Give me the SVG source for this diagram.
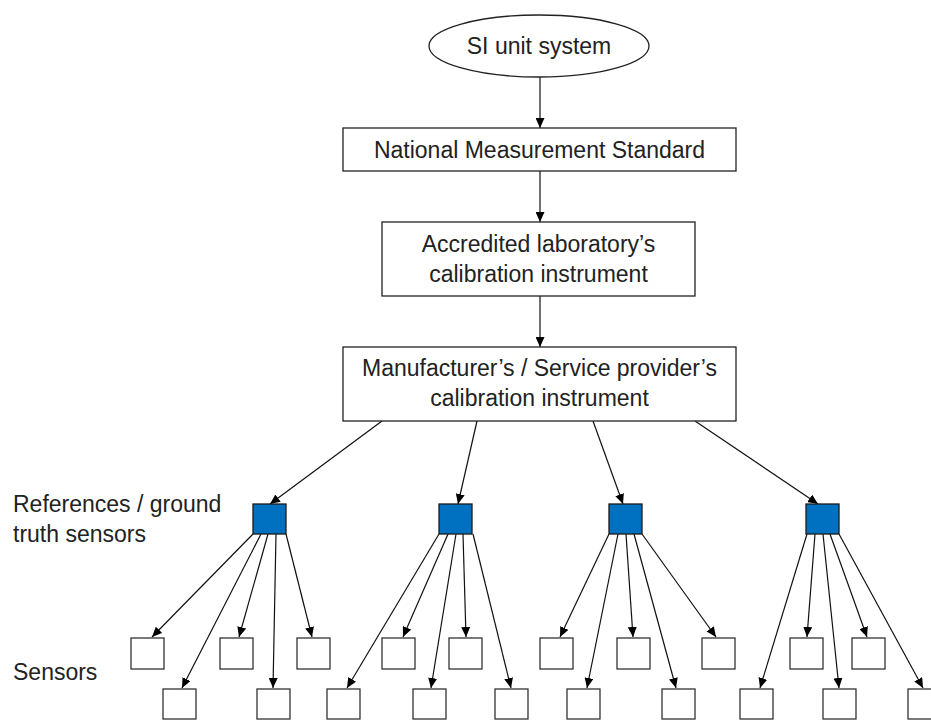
<svg xmlns="http://www.w3.org/2000/svg" width="931" height="720" viewBox="0 0 931 720">
<style>
  text { font-family: "Liberation Sans", Arial, sans-serif; font-size: 23px; fill: #222; }
  .c { text-anchor: middle; }
  .box { fill: #fff; stroke: #222; stroke-width: 1.3; }
  .ref { fill: #0070C0; stroke: #1a1a1a; stroke-width: 1.3; }
  .sen { fill: #fff; stroke: #333; stroke-width: 1.3; }
  .edge { stroke: #111; stroke-width: 1.2; fill: none; marker-end: url(#arr); }
</style>
<defs>
  <marker id="arr" markerUnits="userSpaceOnUse" markerWidth="11" markerHeight="9" refX="10" refY="4.5" orient="auto">
    <path d="M0,0 L10,4.5 L0,9 z" fill="#000"/>
  </marker>
</defs>
<rect width="931" height="720" fill="#fff"/>

<g id="connectors">
  <line class="edge" x1="540" y1="77" x2="540" y2="128"/>
  <line class="edge" x1="540" y1="171" x2="540" y2="222"/>
  <line class="edge" x1="540" y1="296" x2="540" y2="347"/>

  <line class="edge" x1="382" y1="421" x2="270" y2="504"/>
  <line class="edge" x1="477" y1="421" x2="458" y2="504"/>
  <line class="edge" x1="593" y1="421" x2="623" y2="504"/>
  <line class="edge" x1="695" y1="421" x2="818" y2="504"/>

  <line class="edge" x1="253" y1="534" x2="152" y2="637"/>
  <line class="edge" x1="261" y1="534" x2="182" y2="688"/>
  <line class="edge" x1="268" y1="534" x2="239" y2="637"/>
  <line class="edge" x1="276" y1="534" x2="273" y2="688"/>
  <line class="edge" x1="286" y1="534" x2="312" y2="637"/>

  <line class="edge" x1="439" y1="534" x2="347" y2="688"/>
  <line class="edge" x1="448" y1="534" x2="403" y2="637"/>
  <line class="edge" x1="456" y1="534" x2="431" y2="688"/>
  <line class="edge" x1="463" y1="534" x2="466" y2="637"/>
  <line class="edge" x1="473" y1="534" x2="511" y2="688"/>

  <line class="edge" x1="609" y1="534" x2="560" y2="637"/>
  <line class="edge" x1="618" y1="534" x2="587" y2="688"/>
  <line class="edge" x1="626" y1="534" x2="633" y2="637"/>
  <line class="edge" x1="634" y1="534" x2="676" y2="688"/>
  <line class="edge" x1="642" y1="534" x2="716" y2="637"/>

  <line class="edge" x1="807" y1="534" x2="760" y2="688"/>
  <line class="edge" x1="815" y1="534" x2="807" y2="637"/>
  <line class="edge" x1="823" y1="534" x2="839" y2="688"/>
  <line class="edge" x1="830" y1="534" x2="867" y2="637"/>
  <line class="edge" x1="839" y1="534" x2="923" y2="688"/>
</g>

<g id="si">
  <ellipse class="box" cx="539" cy="46" rx="110" ry="31"/>
  <text class="c" x="539" y="54">SI unit system</text>
</g>
<g id="nms">
  <rect class="box" x="343" y="128" width="393" height="43"/>
  <text class="c" x="539.5" y="158">National Measurement Standard</text>
</g>
<g id="lab">
  <rect class="box" x="382" y="222" width="313" height="74"/>
  <text class="c" x="538.5" y="252">Accredited laboratory’s</text>
  <text class="c" x="538.5" y="282">calibration instrument</text>
</g>
<g id="mfr">
  <rect class="box" x="343" y="347" width="393" height="74"/>
  <text class="c" x="539.5" y="376">Manufacturer’s / Service provider’s</text>
  <text class="c" x="539.5" y="406">calibration instrument</text>
</g>

<g id="ref1"><rect class="ref" x="253" y="504" width="33" height="30"/></g>
<g id="ref2"><rect class="ref" x="439" y="504" width="33" height="30"/></g>
<g id="ref3"><rect class="ref" x="609" y="504" width="33" height="30"/></g>
<g id="ref4"><rect class="ref" x="806" y="504" width="33" height="30"/></g>

<g id="s1"><rect class="sen" x="131" y="638" width="33" height="31"/></g>
<g id="s2"><rect class="sen" x="220" y="638" width="33" height="31"/></g>
<g id="s3"><rect class="sen" x="297" y="638" width="33" height="31"/></g>
<g id="s4"><rect class="sen" x="382" y="638" width="33" height="31"/></g>
<g id="s5"><rect class="sen" x="449" y="638" width="33" height="31"/></g>
<g id="s6"><rect class="sen" x="540" y="638" width="33" height="31"/></g>
<g id="s7"><rect class="sen" x="617" y="638" width="33" height="31"/></g>
<g id="s8"><rect class="sen" x="702" y="638" width="33" height="31"/></g>
<g id="s9"><rect class="sen" x="790" y="638" width="33" height="31"/></g>
<g id="s10"><rect class="sen" x="852" y="638" width="33" height="31"/></g>

<g id="s11"><rect class="sen" x="163" y="689" width="33" height="30"/></g>
<g id="s12"><rect class="sen" x="257" y="689" width="33" height="30"/></g>
<g id="s13"><rect class="sen" x="327" y="689" width="33" height="30"/></g>
<g id="s14"><rect class="sen" x="413" y="689" width="33" height="30"/></g>
<g id="s15"><rect class="sen" x="495" y="689" width="33" height="30"/></g>
<g id="s16"><rect class="sen" x="567" y="689" width="33" height="30"/></g>
<g id="s17"><rect class="sen" x="662" y="689" width="33" height="30"/></g>
<g id="s18"><rect class="sen" x="740" y="689" width="33" height="30"/></g>
<g id="s19"><rect class="sen" x="823" y="689" width="33" height="30"/></g>
<g id="s20"><rect class="sen" x="908" y="689" width="33" height="30"/></g>

<g id="label-refs">
  <text x="13" y="512">References / ground</text>
  <text x="13" y="542">truth sensors</text>
</g>
<g id="label-sensors">
  <text x="13" y="680">Sensors</text>
</g>
</svg>
